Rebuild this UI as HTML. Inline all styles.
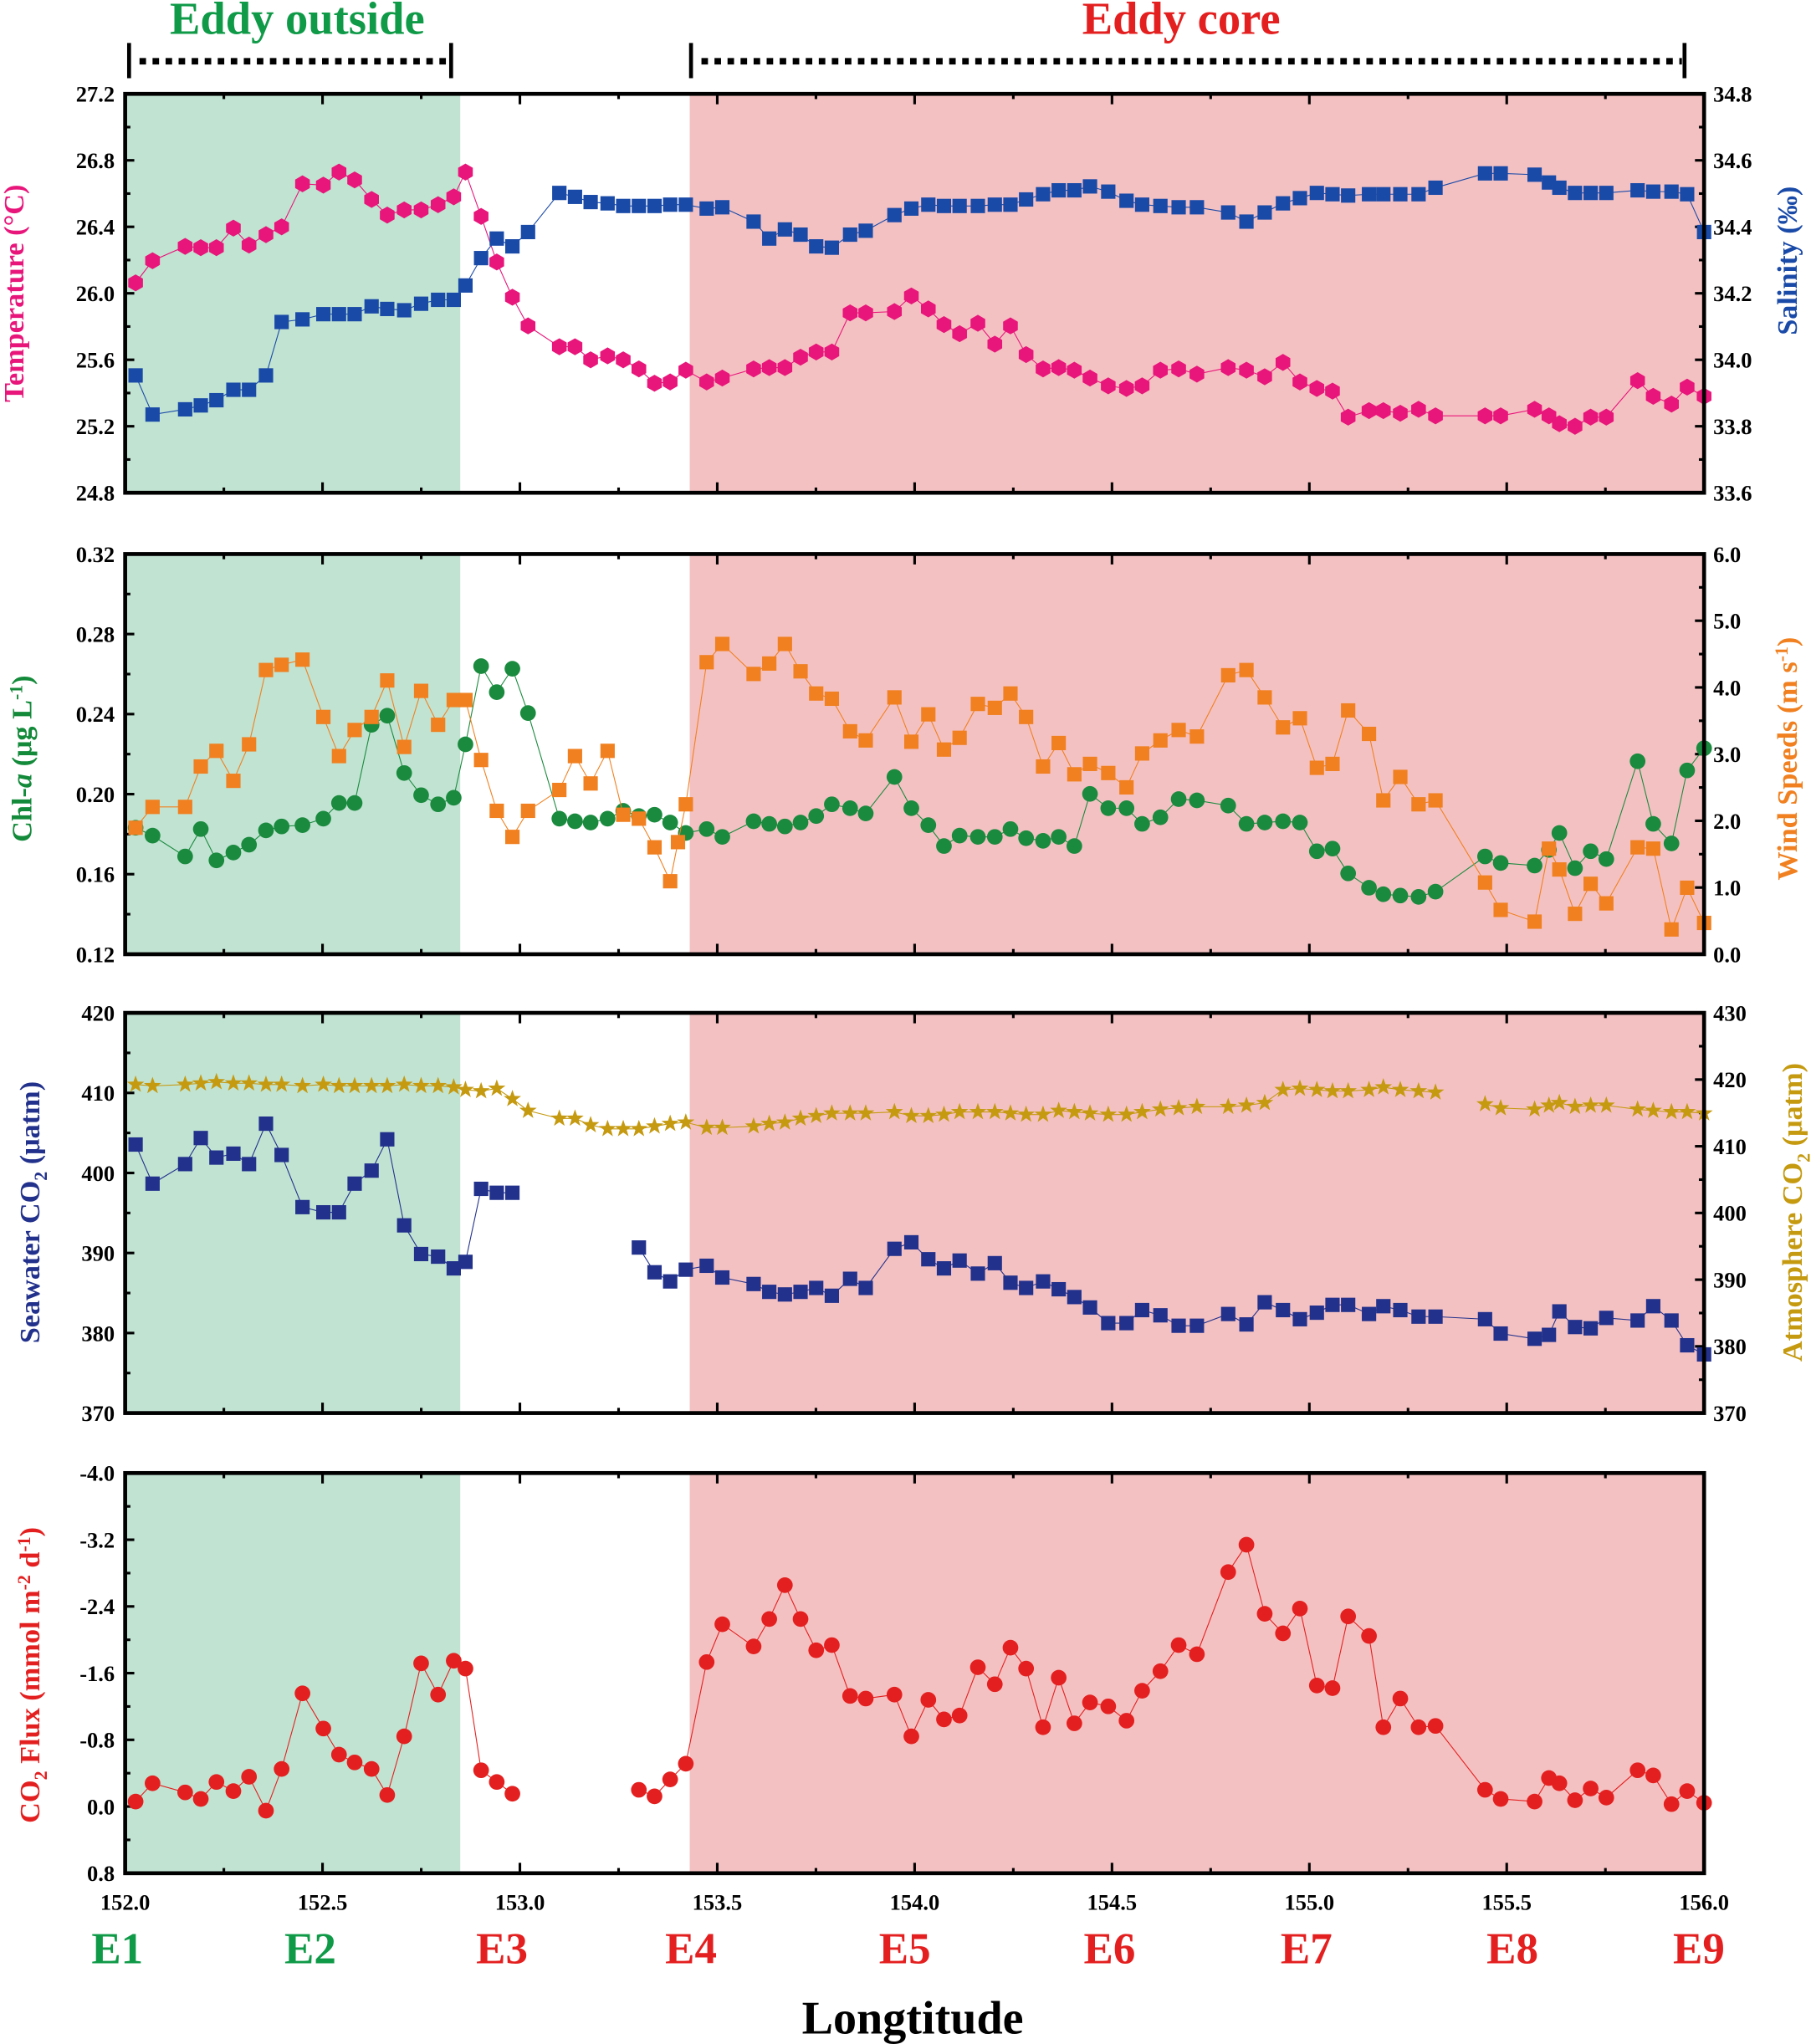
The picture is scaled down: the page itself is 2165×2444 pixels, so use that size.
<!DOCTYPE html>
<html><head><meta charset="utf-8"><style>html,body{margin:0;padding:0;background:#fff}svg{display:block}</style></head>
<body>
<svg id="s" xmlns="http://www.w3.org/2000/svg" width="2165" height="2444" viewBox="0 0 1389 1568" font-family="Liberation Serif, serif" font-weight="bold">
<rect x="96" y="72" width="257" height="306" fill="#c1e3d2"/><rect x="529" y="72" width="778" height="306" fill="#f4c1c2"/>
<rect x="96" y="425" width="257" height="307" fill="#c1e3d2"/><rect x="529" y="425" width="778" height="307" fill="#f4c1c2"/>
<rect x="96" y="777" width="257" height="307" fill="#c1e3d2"/><rect x="529" y="777" width="778" height="307" fill="#f4c1c2"/>
<rect x="96" y="1130" width="257" height="307" fill="#c1e3d2"/><rect x="529" y="1130" width="778" height="307" fill="#f4c1c2"/>
<g id="g"></g>
<text x="228" y="26" font-size="35" fill="#0f9a48" text-anchor="middle">Eddy outside</text>
<text x="906" y="26" font-size="35" fill="#e41f1f" text-anchor="middle">Eddy core</text>
<g stroke="#000" stroke-width="3"><line x1="99" y1="33" x2="99" y2="60"/><line x1="346" y1="33" x2="346" y2="60"/><line x1="530" y1="33" x2="530" y2="60"/><line x1="1292" y1="33" x2="1292" y2="60"/></g>
<g stroke="#000" stroke-width="5" stroke-dasharray="5,5"><line x1="107" y1="47" x2="342" y2="47"/><line x1="538" y1="47" x2="1290" y2="47"/></g>
<g font-size="34" text-anchor="middle">
<text x="90" y="1506" fill="#0f9a48">E1</text><text x="238" y="1506" fill="#0f9a48">E2</text>
<text x="385" y="1506" fill="#e41f1f">E3</text><text x="530" y="1506" fill="#e41f1f">E4</text><text x="694" y="1506" fill="#e41f1f">E5</text><text x="851" y="1506" fill="#e41f1f">E6</text><text x="1002" y="1506" fill="#e41f1f">E7</text><text x="1160" y="1506" fill="#e41f1f">E8</text><text x="1303" y="1506" fill="#e41f1f">E9</text>
</g>
<text x="700" y="1560" font-size="36" text-anchor="middle">Longtitude</text>
<g font-size="22">
<text transform="translate(18,225) rotate(-90)" text-anchor="middle" fill="#e8157a">Temperature (°C)</text>
<text transform="translate(1378,200) rotate(-90)" text-anchor="middle" fill="#1a4aa8">Salinity (‰)</text>
<text transform="translate(24,582) rotate(-90)" text-anchor="middle" fill="#138a3a">Chl-<tspan font-style="italic">a</tspan> (μg L<tspan dy="-7" font-size="14">-1</tspan><tspan dy="7">)</tspan></text>
<text transform="translate(1378,582) rotate(-90)" text-anchor="middle" fill="#f08020">Wind Speeds (m s<tspan dy="-7" font-size="14">-1</tspan><tspan dy="7">)</tspan></text>
<text transform="translate(30,930) rotate(-90)" text-anchor="middle" fill="#22318c">Seawater CO<tspan dy="6" font-size="14">2</tspan><tspan dy="-6"> (μatm)</tspan></text>
<text transform="translate(1382,930) rotate(-90)" text-anchor="middle" fill="#c59a10">Atmosphere CO<tspan dy="6" font-size="14">2</tspan><tspan dy="-6"> (μatm)</tspan></text>
<text transform="translate(30,1285) rotate(-90)" text-anchor="middle" fill="#e41f1f">CO<tspan dy="6" font-size="14">2</tspan><tspan dy="-6"> Flux (mmol m</tspan><tspan dy="-7" font-size="14">-2</tspan><tspan dy="7"> d</tspan><tspan dy="-7" font-size="14">-1</tspan><tspan dy="7">)</tspan></text>
</g>
</svg>
<script>
var NS="http://www.w3.org/2000/svg",G=document.getElementById("g");
function el(t,a,p){var e=document.createElementNS(NS,t);for(var k in a)e.setAttribute(k,a[k]);(p||G).appendChild(e);return e}
function txt(x,y,s,anchor){var e=el("text",{x:x,y:y,"font-size":17,"text-anchor":anchor});e.textContent=s}
var panels=[[72,378],[425,732],[777,1084],[1130,1437]];
var L=[[["27.2","26.8","26.4","26.0","25.6","25.2","24.8"],["34.8","34.6","34.4","34.2","34.0","33.8","33.6"]],
[["0.32","0.28","0.24","0.20","0.16","0.12"],["6.0","5.0","4.0","3.0","2.0","1.0","0.0"]],
[["420","410","400","390","380","370"],["430","420","410","400","390","380","370"]],
[["-4.0","-3.2","-2.4","-1.6","-0.8","0.0","0.8"],[]]];
panels.forEach(function(p,i){
 var t=p[0],b=p[1],h=b-t;
 var l=L[i][0],r=L[i][1];
 l.forEach(function(s,j){var y=t+h*j/(l.length-1);txt(88,y+6,s,"end");el("line",{x1:96,x2:103,y1:y,y2:y,stroke:"#000","stroke-width":2});
  if(j<l.length-1){var ym=y+h/(l.length-1)/2;el("line",{x1:96,x2:100,y1:ym,y2:ym,stroke:"#000","stroke-width":2})}});
 r.forEach(function(s,j){var y=t+h*j/(r.length-1);txt(1314,y+6,s,"start");el("line",{x1:1300,x2:1307,y1:y,y2:y,stroke:"#000","stroke-width":2});
  if(j<r.length-1){var ym=y+h/(r.length-1)/2;el("line",{x1:1303,x2:1307,y1:ym,y2:ym,stroke:"#000","stroke-width":2})}});
 for(var k=0;k<=16;k++){var x=96+1211*k/16,len=k%2?4:8;
  el("line",{x1:x,x2:x,y1:b,y2:b-len,stroke:"#000","stroke-width":2});
  el("line",{x1:x,x2:x,y1:t,y2:t+len,stroke:"#000","stroke-width":2});
  if(i==3&&k%2==0)txt(x,b+28,(152+k/4).toFixed(1),"middle");}
});
function P(s){var a=s.split(/[(),]+/).filter(function(x){return x!==""}).map(Number),o=[];for(var i=0;i<a.length;i+=2)o.push([a[i],a[i+1]]);return o}
function line(segs,c){segs.forEach(function(pts){el("polyline",{points:pts.map(function(q){return q.join(",")}).join(" "),fill:"none",stroke:c,"stroke-width":0.7})})}
function mk(pts,type,c){pts.forEach(function(q){var x=q[0],y=q[1];
 if(type=="sq")el("rect",{x:x-5.5,y:y-5.5,width:11,height:11,fill:c});
 else if(type=="ci")el("circle",{cx:x,cy:y,r:6,fill:c});
 else if(type=="hx"){var s="";for(var k=0;k<6;k++){var a=Math.PI/3*k+Math.PI/6;s+=(x+6.5*Math.cos(a))+","+(y+6.5*Math.sin(a))+" "}el("polygon",{points:s,fill:c})}
 else{var s="";for(var k=0;k<10;k++){var a=-Math.PI/2+Math.PI/5*k,rr=k%2?2.8:7;s+=(x+rr*Math.cos(a))+","+(y+rr*Math.sin(a))+" "}el("polygon",{points:s,fill:c})}})}
function series(str,type,c){var segs=str.split("|").map(P);line(segs,c);segs.forEach(function(s){mk(s,type,c)})}
series("(104,217),(117,200),(142,189),(154,190),(166,190),(179,175),(191,188),(204,180),(216,174),(232,141),(248,142),(260,132),(272,138),(285,153),(297,165),(310,161),(323,161),(336,157),(348,151),(357,132),(369,166),(381,201),(393,228),(405,250),(429,266),(441,266),(453,276),(466,273),(478,276),(490,283),(502,294),(514,293),(526,284),(542,293),(554,290),(578,283),(590,282),(602,282),(614,274),(626,270),(638,270),(652,240),(664,240),(686,239),(699,227),(712,237),(724,249),(736,256),(750,248),(763,264),(775,250),(787,272),(800,283),(812,282),(824,284),(836,290),(850,296),(864,298),(876,296),(890,284),(904,283),(918,287),(942,282),(956,284),(970,289),(984,278),(997,293),(1010,298),(1022,300),(1034,320),(1050,315),(1061,315),(1074,317),(1088,314),(1101,319),(1139,319),(1151,319),(1177,314),(1188,319),(1196,325),(1208,327),(1220,320),(1232,320),(1256,292),(1268,304),(1282,310),(1294,297),(1307,304)","hx","#e8157a");
series("(104,288),(117,318),(142,314),(154,311),(166,307),(179,299),(191,299),(204,288),(216,247),(232,245),(248,241),(260,241),(272,241),(285,235),(297,237),(310,238),(323,233),(336,230),(348,230),(357,219),(369,198),(381,183),(393,189),(405,178),(429,148),(441,151),(453,155),(466,156),(478,158),(490,158),(502,158),(514,157),(526,157),(542,160),(554,159),(578,170),(590,183),(602,176),(614,180),(626,189),(638,190),(652,180),(664,177),(686,165),(699,160),(712,157),(724,158),(736,158),(750,158),(763,157),(775,157),(787,153),(800,149),(812,146),(824,146),(836,143),(850,147),(864,154),(876,157),(890,158),(904,159),(918,159),(942,163),(956,170),(970,163),(984,156),(997,152),(1010,148),(1022,149),(1034,150),(1050,149),(1061,149),(1074,149),(1088,149),(1101,144),(1139,133),(1151,133),(1177,134),(1188,140),(1196,144),(1208,148),(1220,148),(1232,148),(1256,146),(1268,147),(1282,147),(1294,149),(1307,178)","sq","#1a4aa8");
series("(104,635),(117,641),(142,657),(154,636),(166,660),(179,654),(191,648),(204,637),(216,634),(232,633),(248,628),(260,616),(272,616),(285,556),(297,549),(310,593),(323,610),(336,617),(348,612),(357,571),(369,511),(381,531),(393,513),(405,547),(429,628),(441,630),(453,631),(466,628),(478,622),(490,626),(502,625),(514,631),(526,639),(542,636),(554,642),(578,630),(590,632),(602,634),(614,631),(626,626),(638,617),(652,620),(664,624),(686,596),(699,620),(712,633),(724,649),(736,641),(750,642),(763,642),(775,636),(787,643),(800,645),(812,642),(824,649),(836,609),(850,620),(864,620),(876,632),(890,627),(904,613),(918,614),(942,618),(956,632),(970,631),(984,630),(997,631),(1010,653),(1022,651),(1034,670),(1050,681),(1061,686),(1074,687),(1088,688),(1101,684),(1139,657),(1151,662),(1177,664),(1188,652),(1196,639),(1208,666),(1220,653),(1232,659),(1256,584),(1268,632),(1282,647),(1294,591),(1307,574)","ci","#1a8a3e");
series("(104,635),(117,619),(142,619),(154,588),(166,576),(179,599),(191,571),(204,514),(216,510),(232,506),(248,550),(260,580),(272,560),(285,550),(297,522),(310,573),(323,530),(336,556),(348,537),(357,537),(369,583),(381,622),(393,642),(405,622),(429,606),(441,580),(453,601),(466,576),(478,625),(490,628),(502,650),(514,676),(520,646),(526,617),(542,508),(554,494),(578,517),(590,509),(602,494),(614,515),(626,532),(638,536),(652,561),(664,568),(686,535),(699,569),(712,548),(724,575),(736,566),(750,540),(763,543),(775,532),(787,550),(800,588),(812,570),(824,594),(836,586),(850,593),(864,604),(876,578),(890,568),(904,560),(918,565),(942,518),(956,514),(970,535),(984,558),(997,551),(1010,589),(1022,586),(1034,545),(1050,563),(1061,614),(1074,596),(1088,617),(1101,614),(1139,677),(1151,698),(1177,707),(1188,651),(1196,667),(1208,701),(1220,678),(1232,693),(1256,650),(1268,651),(1282,713),(1294,681),(1307,708)","sq","#f08020");
series("(104,832),(117,833),(142,832),(154,831),(166,830),(179,831),(191,831),(204,832),(216,832),(232,833),(248,832),(260,833),(272,833),(285,833),(297,833),(310,832),(323,833),(336,833),(348,834),(357,836),(369,837),(381,835),(393,843),(405,852),(429,858),(441,858),(453,863),(466,866),(478,866),(490,866),(502,864),(514,862),(526,861),(542,865),(554,865),(578,864),(590,862),(602,861),(614,858),(626,856),(638,854),(652,854),(664,854),(686,853),(699,856),(712,856),(724,855),(736,853),(750,853),(763,853),(775,854),(787,855),(800,855),(812,852),(824,853),(836,854),(850,855),(864,855),(876,853),(890,851),(904,850),(918,849),(942,849),(956,848),(970,846),(984,836),(997,835),(1010,836),(1022,837),(1034,837),(1050,836),(1061,834),(1074,836),(1088,837),(1101,838)|(1139,847),(1151,850),(1177,851),(1188,848),(1196,846),(1208,849),(1220,848),(1232,848),(1256,851),(1268,852),(1282,853),(1294,853),(1307,854)","st","#c59a10");
series("(104,878),(117,908),(142,893),(154,873),(166,888),(179,885),(191,893),(204,862),(216,886),(232,926),(248,930),(260,930),(272,908),(285,898),(297,874),(310,940),(323,962),(336,964),(348,973),(357,968),(369,912),(381,915),(393,915)|(490,957),(502,976),(514,983),(526,974),(542,971),(554,980),(578,985),(590,991),(602,993),(614,991),(626,988),(638,994),(652,981),(664,988),(686,958),(699,953),(712,966),(724,973),(736,967),(750,977),(763,969),(775,984),(787,988),(800,983),(812,989),(824,995),(836,1003),(850,1015),(864,1015),(876,1005),(890,1009),(904,1017),(918,1017),(942,1008),(956,1016),(970,999),(984,1005),(997,1012),(1010,1007),(1022,1001),(1034,1001),(1050,1008),(1061,1002),(1074,1005),(1088,1010),(1101,1010),(1139,1012),(1151,1023),(1177,1027),(1188,1024),(1196,1006),(1208,1018),(1220,1019),(1232,1011),(1256,1013),(1268,1002),(1282,1013),(1294,1032),(1307,1039)","sq","#22318c");
series("(104,1382),(117,1368),(142,1375),(154,1380),(166,1367),(179,1374),(191,1363),(204,1389),(216,1357),(232,1299),(248,1326),(260,1346),(272,1352),(285,1357),(297,1377),(310,1332),(323,1276),(336,1300),(348,1274),(357,1280),(369,1358),(381,1367),(393,1376)|(490,1373),(502,1378),(514,1365),(526,1353),(542,1275),(554,1246),(578,1263),(590,1242),(602,1216),(614,1242),(626,1266),(638,1262),(652,1301),(664,1303),(686,1300),(699,1332),(712,1304),(724,1319),(736,1316),(750,1279),(763,1292),(775,1264),(787,1280),(800,1325),(812,1287),(824,1322),(836,1306),(850,1309),(864,1320),(876,1297),(890,1282),(904,1262),(918,1269),(942,1206),(956,1185),(970,1238),(984,1253),(997,1234),(1010,1293),(1022,1295),(1034,1240),(1050,1255),(1061,1325),(1074,1303),(1088,1325),(1101,1324),(1139,1373),(1151,1380),(1177,1382),(1188,1364),(1196,1368),(1208,1381),(1220,1372),(1232,1379),(1256,1358),(1268,1362),(1282,1384),(1294,1374),(1307,1383)","ci","#e41f1f");
panels.forEach(function(p){el("rect",{x:96,y:p[0],width:1211,height:p[1]-p[0],fill:"none",stroke:"#000","stroke-width":3})});
</script>
</body></html>
